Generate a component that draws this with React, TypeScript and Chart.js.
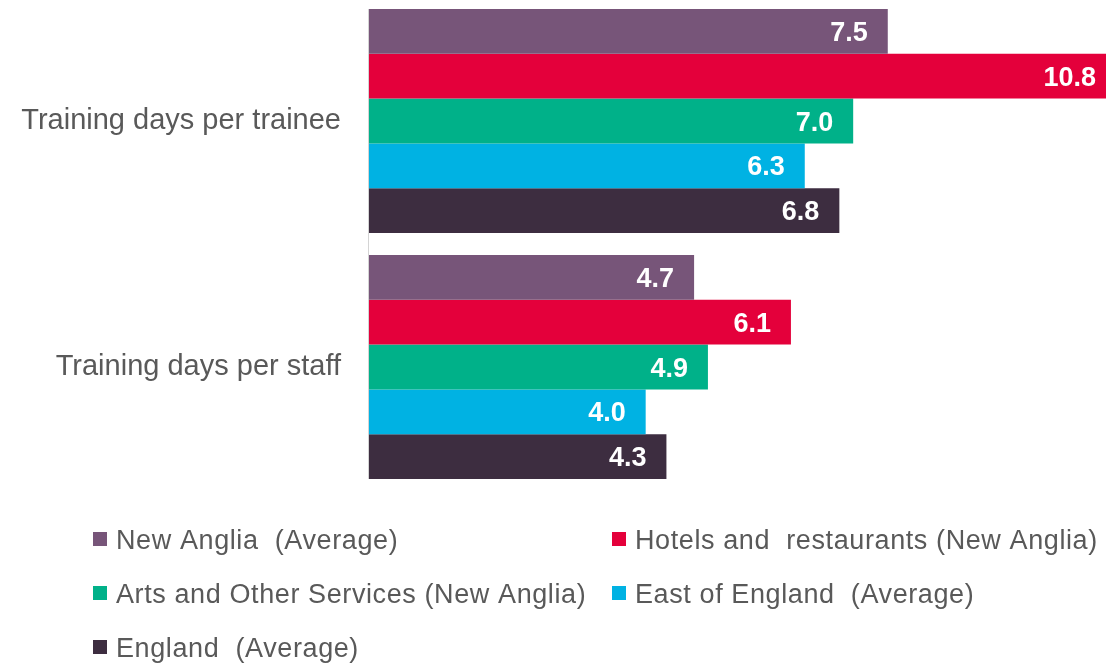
import React, { useEffect, useRef } from "react";
import { Chart, registerables } from "chart.js";

Chart.register(...registerables);

const categories = ["Training days per trainee", "Training days per staff"];
const seriesNames = [
  "New Anglia  (Average)",
  "Hotels and  restaurants (New Anglia)",
  "Arts and Other Services (New Anglia)",
  "East of England  (Average)",
  "England  (Average)",
];
const newAnglia = [7.5, 4.7];
const hotels = [10.8, 6.1];
const arts = [7.0, 4.9];
const eastEngland = [6.3, 4.0];
const england = [6.8, 4.3];
const colors = ["#775579", "#E4003B", "#00B189", "#00B2E3", "#3D2D40"];

const FONT = "'Liberation Sans', Arial, sans-serif";

export default function App() {
  const ref = useRef<HTMLCanvasElement>(null);
  useEffect(() => {
    document.body.style.margin = "0";
    document.body.style.overflow = "hidden";
    const seriesValues = [newAnglia, hotels, arts, eastEngland, england];
    const axisLinePlugin = {
      id: "axisLine",
      afterDatasetsDraw(chart: any) {
        const first = chart.getDatasetMeta(0).data[0];
        const lastMeta = chart.getDatasetMeta(chart.data.datasets.length - 1);
        const last = lastMeta.data[lastMeta.data.length - 1];
        const top = first.y - first.height / 2;
        const bottom = last.y + last.height / 2;
        const ctx = chart.ctx;
        ctx.save();
        ctx.strokeStyle = "#D4D4D4";
        ctx.lineWidth = 1;
        ctx.beginPath();
        ctx.moveTo(chart.chartArea.left - 0.5, top);
        ctx.lineTo(chart.chartArea.left - 0.5, bottom);
        ctx.stroke();
        ctx.restore();
      },
    };
    const labelPlugin = {
      id: "barLabels",
      afterDraw(chart: any) {
        const ctx = chart.ctx;
        ctx.save();
        ctx.font = `bold 27px ${FONT}`;
        ctx.fillStyle = "#FFFFFF";
        ctx.textAlign = "right";
        ctx.textBaseline = "alphabetic";
        chart.data.datasets.forEach((ds: any, di: number) => {
          const meta = chart.getDatasetMeta(di);
          meta.data.forEach((bar: any, i: number) => {
            const v = ds.data[i];
            ctx.fillText(v.toFixed(1), bar.x - 20, bar.y + 9.5);
          });
        });
        ctx.restore();
      },
    };
    const legendPlugin = {
      id: "gridLegend",
      afterDraw(chart: any) {
        const ctx = chart.ctx;
        ctx.save();
        ctx.font = `27px ${FONT}`;
        (ctx as any).letterSpacing = "0.6px";
        ctx.textBaseline = "alphabetic";
        ctx.textAlign = "left";
        const cols = [93, 612];
        const rows = [541, 595, 649];
        seriesNames.forEach((name, i) => {
          const x = cols[i % 2];
          const y = rows[Math.floor(i / 2)];
          ctx.fillStyle = colors[i];
          ctx.fillRect(x, y - 7, 14, 14);
          ctx.fillStyle = "#595959";
          ctx.fillText(name, x + 23, y + 9.7);
        });
        ctx.restore();
      },
    };
    const chart = new Chart(ref.current!, {
      type: "bar",
      data: {
        labels: categories,
        datasets: seriesNames.map((n, i) => ({
          label: n,
          data: seriesValues[i],
          backgroundColor: colors[i],
          borderWidth: 0,
          barPercentage: 1.0,
          categoryPercentage: 0.9106,
        })),
      },
      options: {
        indexAxis: "y",
        animation: false,
        responsive: false,
        maintainAspectRatio: false,
        layout: { autoPadding: false, padding: { top: 0, bottom: 175, left: 0, right: 0 } },
        plugins: {
          legend: { display: false },
          tooltip: { enabled: false },
        },
        scales: {
          x: {
            display: false,
            min: 0,
            max: 10.655,
          },
          y: {
            grid: { display: false },
            border: { display: false },
            ticks: {
              color: "#595959",
              font: { family: FONT, size: 29 },
              padding: 20,
            },
            afterFit(scale: any) {
              scale.width = 369;
              scale.paddingTop = 0;
              scale.paddingBottom = 0;
            },
          },
        },
      },
      plugins: [axisLinePlugin, labelPlugin, legendPlugin],
    });
    return () => chart.destroy();
  }, []);
  return (
    <canvas
      ref={ref}
      width={1106}
      height={667}
      style={{ display: "block", marginTop: -2 }}
    />
  );
}
